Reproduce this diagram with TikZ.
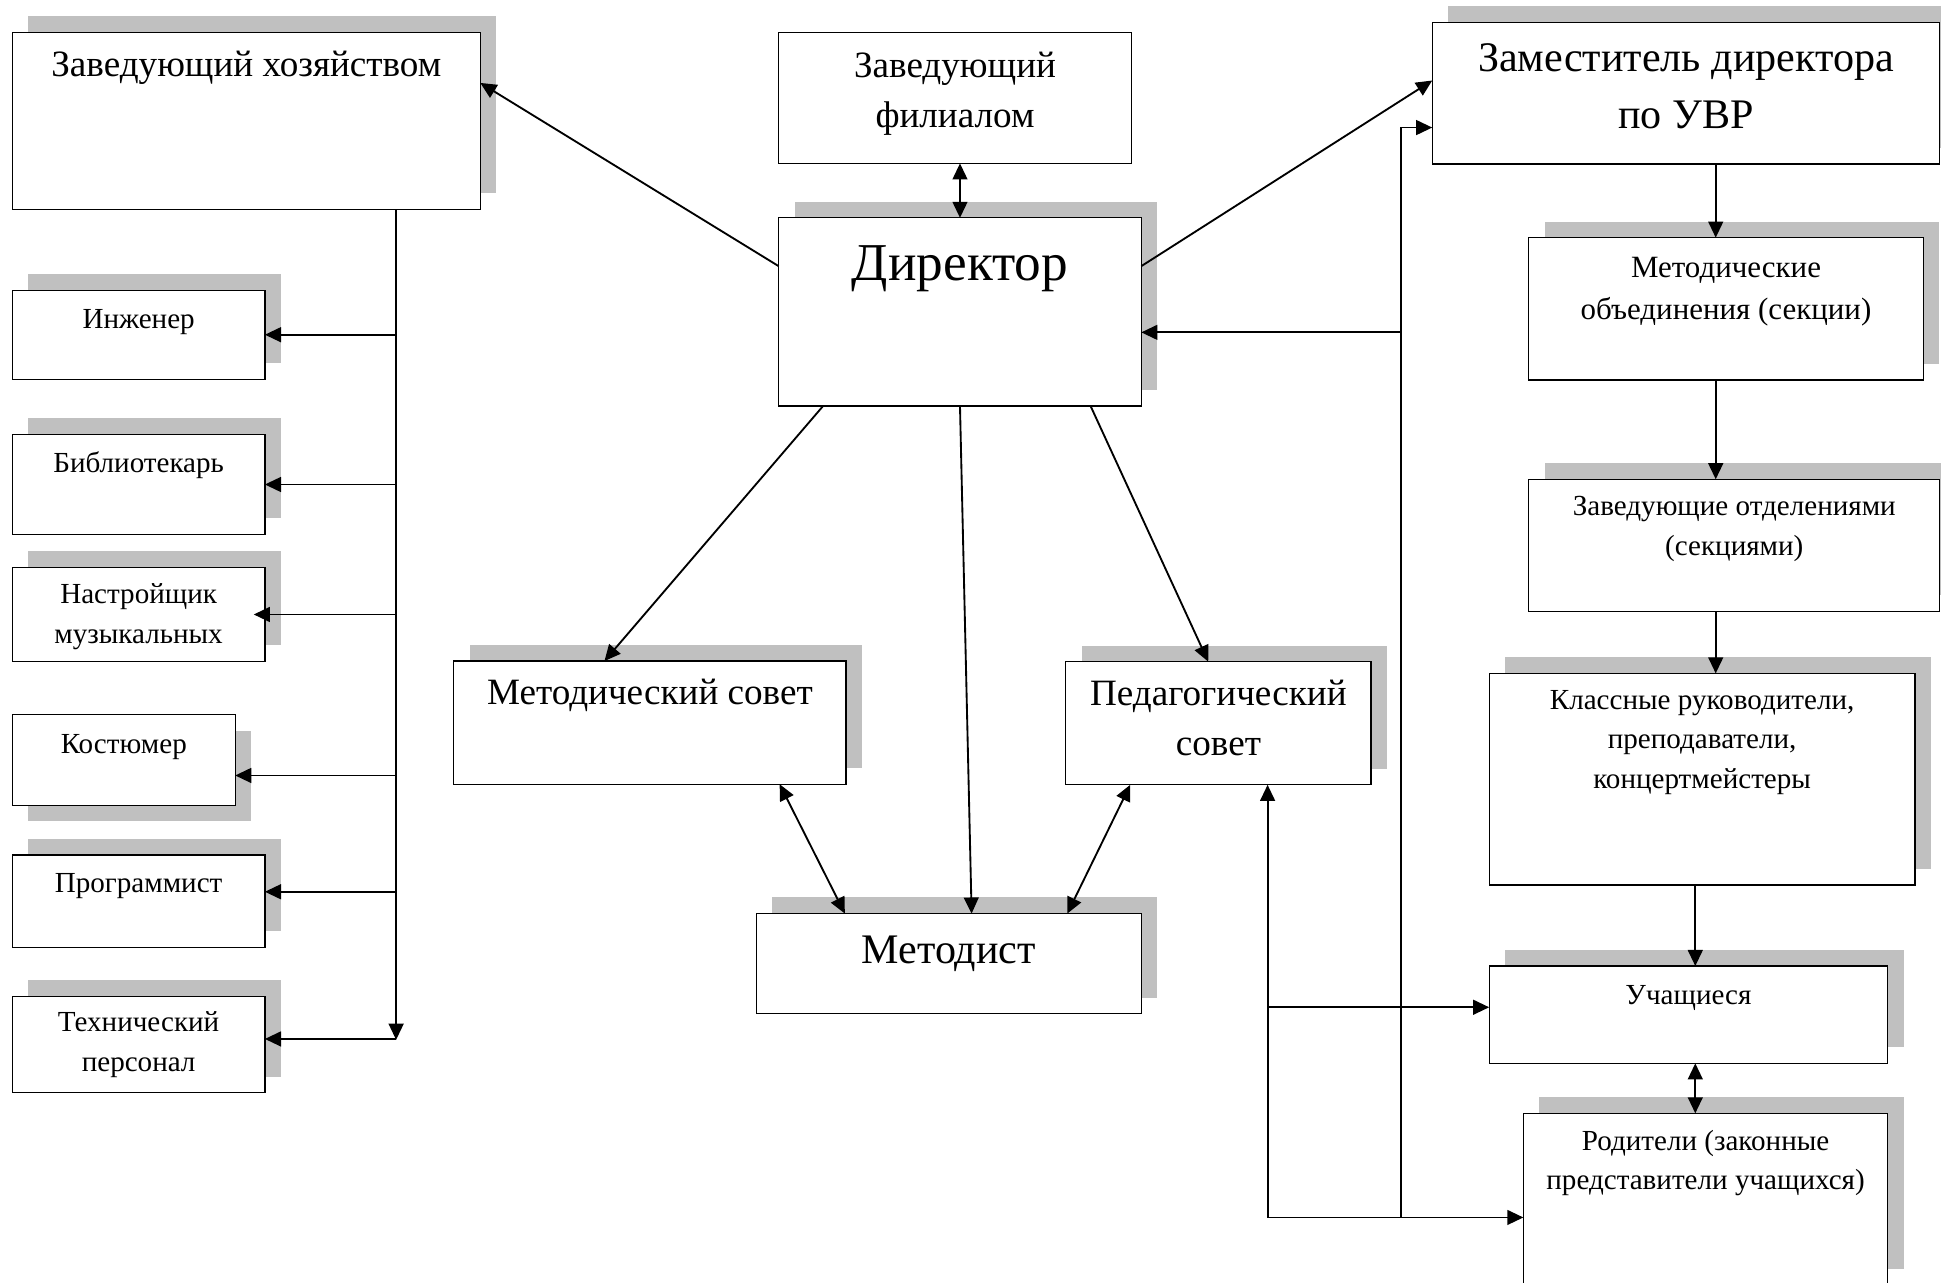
\documentclass[tikz,border=0pt]{standalone}
\usepackage{fontspec}
\setmainfont{Liberation Serif}
\usetikzlibrary{arrows.meta, shadows}
\definecolor{shadowgray}{RGB}{192, 192, 192}
\newcommand{\fsm}{\fontsize{11.75}{16}\selectfont}
\newcommand{\fme}{\fontsize{12.5}{17.25}\selectfont}
\newcommand{\fmd}{\fontsize{15}{20.25}\selectfont}
\newcommand{\flg}{\fontsize{17}{22.8}\selectfont}
\newcommand{\fxl}{\fontsize{21.5}{29}\selectfont}

\begin{document}
\begin{tikzpicture}[x=0.5pt, y=-0.5pt, >={Triangle[length=6.5pt, width=6pt]},
    plain/.style={draw, line width=0.5pt, fill=white, anchor=north west, inner sep=0pt, outer sep=0pt},
    box/.style={plain, general shadow={fill=shadowgray, shadow xshift=6.5pt, shadow yshift=6.5pt}},
    boxlow/.style={plain, general shadow={fill=shadowgray, shadow xshift=6.5pt, shadow yshift=-6.5pt}},
    lab/.style={anchor=base, inner sep=0pt, align=center},
    link/.style={line width=0.75pt}]
    \useasboundingbox (0,0) rectangle (1568,1036);
    \clip (0,0) rectangle (1568,1036);

    \node[box, minimum width=189pt, minimum height=71.5pt, label={[lab, font=\fmd, yshift=-18pt]north:Заведующий хозяйством}] (hoz) at (10,26) {};
    \node[plain, minimum width=142.5pt, minimum height=53pt, label={[lab, font=\fmd, yshift=-38.4pt]north:{Заведующий\\филиалом}}] (fil) at (629,26) {};
    \node[box, minimum width=146.5pt, minimum height=76pt, label={[lab, font=\fxl, yshift=-25.5pt]north:Директор}] (dir) at (629,176) {};
    \node[box, minimum width=158.5pt, minimum height=49.75pt, label={[lab, font=\fmd, yshift=-17.75pt]north:Методический совет}] (metsov) at (366.5,534) {};
    \node[box, minimum width=123.25pt, minimum height=49.75pt, label={[lab, font=\fmd, yshift=-37.9pt]north:{Педагогический\\совет}}] (pedsov) at (861,534.5) {};
    \node[box, minimum width=155.5pt, minimum height=40.5pt, label={[lab, font=\flg, yshift=-20pt]north:Методист}] (metodist) at (611,738) {};

    \node[box, minimum width=102pt, minimum height=36pt, label={[lab, font=\fsm, yshift=-15.3pt]north:Инженер}] (ing) at (10,234.4) {};
    \node[box, minimum width=102pt, minimum height=40.4pt, label={[lab, font=\fsm, yshift=-15.25pt]north:Библиотекарь}] (bib) at (10,351) {};
    \node[box, minimum width=102pt, minimum height=38pt, label={[lab, font=\fsm, yshift=-30.6pt]north:{Настройщик\\музыкальных}}] (nas) at (10,458.4) {};
    \node[boxlow, minimum width=90pt, minimum height=36.65pt, label={[lab, font=\fsm, yshift=-15.7pt]north:Костюмер}] (kos) at (10,577.2) {};
    \node[box, minimum width=102pt, minimum height=37.3pt, label={[lab, font=\fsm, yshift=-15.25pt]north:Программист}] (prog) at (10,690.7) {};
    \node[box, minimum width=102pt, minimum height=38.9pt, label={[lab, font=\fsm, yshift=-30.3pt]north:{Технический\\персонал}}] (teh) at (10,805) {};

    \node[box, minimum width=205pt, minimum height=57.25pt, label={[lab, font=\flg, yshift=-42.8pt]north:{Заместитель директора\\по УВР}}] (zam) at (1157,18) {};
    \node[box, minimum width=159.3pt, minimum height=57.5pt, label={[lab, font=\fme, yshift=-33.25pt]north:{Методические\\объединения (секции)}}] (mo) at (1235,192) {};
    \node[box, minimum width=166pt, minimum height=53.4pt, label={[lab, font=\fsm, yshift=-30.6pt]north:{Заведующие отделениями\\(секциями)}}] (zav) at (1235,387.2) {};
    \node[box, minimum width=172pt, minimum height=85.5pt, label={[lab, font=\fsm, yshift=-46.4pt]north:{Классные руководители,\\преподаватели,\\концертмейстеры}}] (kl) at (1203,544) {};
    \node[box, minimum width=161pt, minimum height=39.3pt, label={[lab, font=\fsm, yshift=-15.7pt]north:Учащиеся}] (uch) at (1203,780.4) {};
    \node[box, minimum width=147.2pt, minimum height=69.3pt, label={[lab, font=\fsm, yshift=-30.9pt]north:{Родители (законные\\представители учащихся)}}] (rod) at (1230.6,899.4) {};

    \draw[link, ->] ([yshift=18.5pt]dir.west) -- ([yshift=15.25pt]hoz.east);
    \draw[link, ->] ([yshift=18.5pt]dir.east) -- ([yshift=5.1pt]zam.west);
    \draw[link, <->] (dir.north |- fil.south) -- (dir.north);
    \draw[link, ->] ([xshift=-55.3pt]dir.south) -- ([xshift=-18.35pt]metsov.north);
    \draw[link, ->] (dir.south) -- ([xshift=9.2pt]metodist.north);
    \draw[link, ->] ([xshift=52.75pt]dir.south) -- ([xshift=-4.1pt]pedsov.north);
    \draw[link, <->] ([xshift=52.4pt]metsov.south) -- ([xshift=-42pt]metodist.north);
    \draw[link, <->] ([xshift=-35.6pt]pedsov.south) -- ([xshift=47.85pt]metodist.north);

    \coordinate (spine) at (320,840);
    \coordinate (kosin) at ([yshift=-6.3pt]kos.east);
    \coordinate (progin) at ([yshift=3.8pt]prog.east);
    \coordinate (tehin) at ([yshift=2.3pt]teh.east);
    \draw[link, ->] (hoz.south -| spine) -- (spine);
    \draw[link, ->] (spine |- ing.east) -- (ing.east);
    \draw[link, ->] (spine |- bib.east) -- (bib.east);
    \draw[link, ->] (spine |- nas.east) -- ([xshift=-4.5pt]nas.east);
    \draw[link, ->] (spine |- kosin) -- (kosin);
    \draw[link, ->] (spine |- progin) -- (progin);
    \draw[link, ->] (spine |- tehin) -- (tehin);

    \coordinate (trunk) at (1131.5,983.5);
    \coordinate (loop) at (1024,983.5);
    \coordinate (uchin) at ([yshift=3pt]uch.west);
    \draw[link, ->] (trunk) |- ([yshift=-8.25pt]dir.east);
    \draw[link, ->] (trunk) |- ([yshift=-13.9pt]zam.west);
    \draw[link, ->] (trunk) -- (loop) -- (loop |- pedsov.south);
    \draw[link, ->] (loop) -- (loop -| rod.west);
    \draw[link, ->] (loop |- uchin) -- (uchin);

    \coordinate (col) at (1386,0);
    \coordinate (col2) at (1369.5,0);
    \draw[link, ->] (zam.south -| col) -- (mo.north -| col);
    \draw[link, ->] (mo.south -| col) -- (zav.north -| col);
    \draw[link, ->] (zav.south -| col) -- (kl.north -| col);
    \draw[link, ->] (kl.south -| col2) -- (uch.north -| col2);
    \draw[link, <->] (uch.south -| col2) -- (rod.north -| col2);
\end{tikzpicture}
\end{document}
